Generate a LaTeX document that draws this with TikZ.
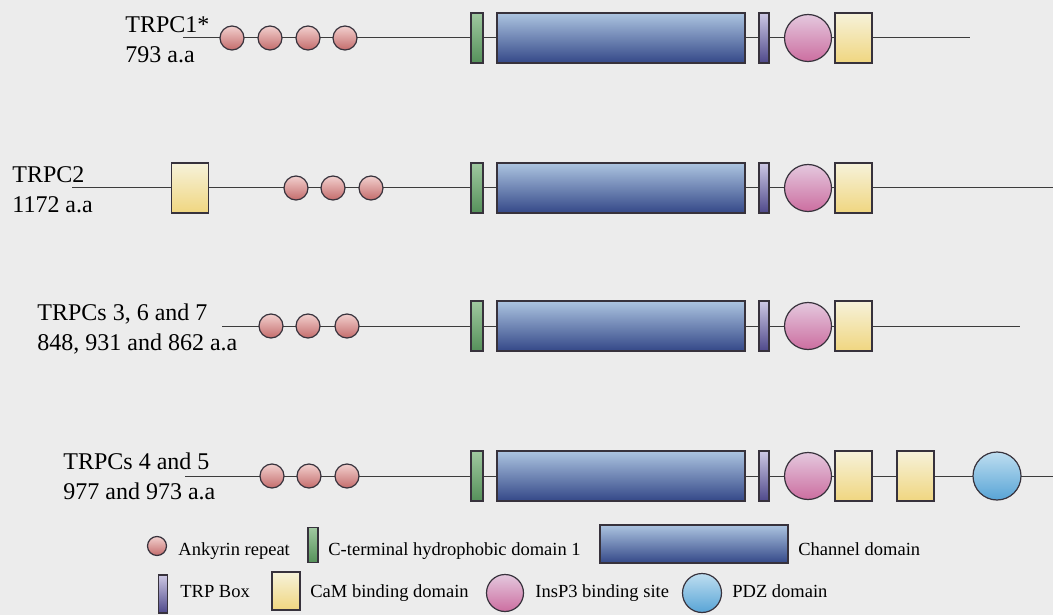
\documentclass[tikz,border=0pt]{standalone}
\usepackage{fontspec}
\setmainfont{Liberation Serif}
\usepackage{tikz}
\usetikzlibrary{calc}
\usetikzlibrary{backgrounds}

\definecolor{bgcol}{RGB}{236,236,236}
\definecolor{edgecol}{RGB}{55,50,60}
\definecolor{linecol}{RGB}{60,60,60}
\definecolor{ankTop}{RGB}{242,208,206}
\definecolor{ankBot}{RGB}{196,108,108}
\definecolor{hydTop}{RGB}{160,200,160}
\definecolor{hydBot}{RGB}{85,145,90}
\definecolor{chanTop}{RGB}{172,196,224}
\definecolor{chanBot}{RGB}{52,72,136}
\definecolor{trpTop}{RGB}{205,200,228}
\definecolor{trpBot}{RGB}{78,72,138}
\definecolor{insTop}{RGB}{228,200,222}
\definecolor{insBot}{RGB}{204,110,160}
\definecolor{camTop}{RGB}{246,242,218}
\definecolor{camBot}{RGB}{240,214,128}
\definecolor{pdzTop}{RGB}{190,222,240}
\definecolor{pdzBot}{RGB}{88,164,214}

\begin{document}
\begin{tikzpicture}[x=1pt,y=-1pt,thick,
	dom/.style={draw=edgecol,line width=1.2pt,inner sep=0pt,outer sep=0pt},
	ank/.style={dom,circle,minimum size=24pt,top color=ankTop,bottom color=ankBot},
	hyd/.style={dom,minimum width=12pt,minimum height=50pt,top color=hydTop,bottom color=hydBot},
	chan/.style={dom,minimum width=248pt,minimum height=50pt,top color=chanTop,bottom color=chanBot},
	trp/.style={dom,minimum width=10pt,minimum height=50pt,top color=trpTop,bottom color=trpBot},
	ins/.style={dom,circle,minimum size=47pt,top color=insTop,bottom color=insBot},
	cam/.style={dom,minimum width=37pt,minimum height=50pt,top color=camTop,bottom color=camBot},
	pdz/.style={dom,circle,minimum size=48pt,top color=pdzTop,bottom color=pdzBot},
	bb/.style={draw=linecol,line width=1pt},
	lbl/.style={font=\fontsize{24}{30}\selectfont,align=left,anchor=base west,inner sep=0pt},
	key/.style={font=\fontsize{18.5}{22}\selectfont,anchor=base west,inner sep=0pt},
]
	\useasboundingbox (0,0) rectangle (1053,615);
	\fill[bgcol] (0,0) rectangle (1053,615);

	% backbones
	\coordinate (s1) at (183,38);  \coordinate (e1) at (970,38);
	\coordinate (s2) at (72,188);  \coordinate (e2) at (1053,188);
	\coordinate (s3) at (222,326); \coordinate (e3) at (1020,326);
	\coordinate (s4) at (185,476); \coordinate (e4) at (1053,476);
	\foreach \r in {1,...,4}{
		\draw[bb] (s\r) -- (e\r);
	}

	% domains shared by all four
	\foreach \r/\y in {1/38,2/188,3/326,4/476}{
		\node[hyd] (h\r) at (477,\y) {};
		\node[chan] (ch\r) at (621,\y) {};
		\node[trp] (t\r) at (764,\y) {};
		\node[ins] (ip\r) at (808,\y) {};
		\node[cam] (cm\r) at (853.5,\y) {};
	}

	% ankyrin repeats
	\foreach \x [count=\i] in {232,270,308,345}
		\node[ank] (a1-\i) at (\x,38) {};
	\foreach \x [count=\i] in {296,333,371}
		\node[ank] (a2-\i) at (\x,188) {};
	\foreach \x [count=\i] in {271,308,347}
		\node[ank] (a3-\i) at (\x,326) {};
	\foreach \x [count=\i] in {272,309,347}
		\node[ank] (a4-\i) at (\x,476) {};

	% extra domains
	\node[cam] (cmN2) at (190,188) {};
	\node[cam] (cmB4) at (915.5,476) {};
	\node[pdz] (pdz4) at (997,476) {};

	% names (anchored on the baseline of the lower line)
	\node[lbl] (n1) at (125,63) {TRPC1*\\793 a.a};
	\node[lbl] (n2) at (12,212) {TRPC2\\1172 a.a};
	\node[lbl] (n3) at (37,350) {TRPCs 3, 6 and 7\\848, 931 and 862 a.a};
	\node[lbl] (n4) at (63,499) {TRPCs 4 and 5\\977 and 973 a.a};

	% key
	\node[ank,minimum size=19pt] (kAnk) at (157,546) {};
	\node[key] (tAnk) at (178,555) {Ankyrin repeat};
	\node[hyd,minimum width=10pt,minimum height=35pt] (kHyd) at (313,545) {};
	\node[key] (tHyd) at (328,555) {C-terminal hydrophobic domain 1};
	\node[chan,minimum width=188pt,minimum height=38pt] (kChan) at (694,544) {};
	\node[key] (tChan) at (798,555) {Channel domain};
	\node[trp,minimum width=9pt,minimum height=38pt] (kTrp) at (163,594) {};
	\node[key] (tTrp) at (180,597) {TRP Box};
	\node[cam,minimum width=28pt,minimum height=38pt] (kCam) at (286,591) {};
	\node[key] (tCam) at (310,597) {CaM binding domain};
	\node[ins,minimum size=37pt] (kIns) at (505,593) {};
	\node[key] (tIns) at (535,597) {InsP3 binding site};
	\node[pdz,minimum size=39pt] (kPdz) at (702,593) {};
	\node[key] (tPdz) at (732,597) {PDZ domain};
\end{tikzpicture}
\end{document}
